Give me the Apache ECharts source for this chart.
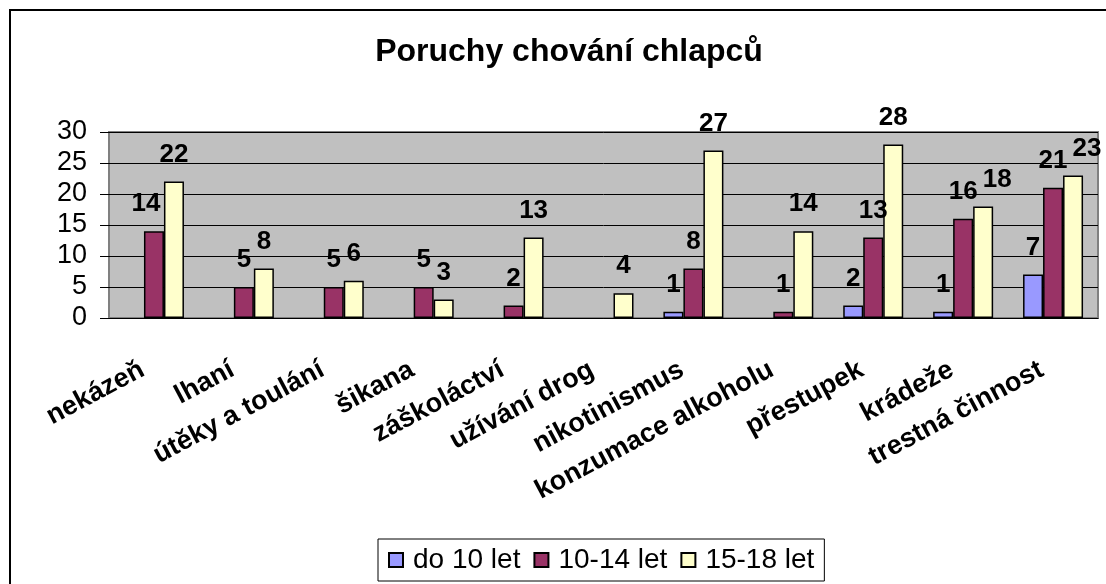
<!DOCTYPE html>
<html>
<head>
<meta charset="UTF-8">
<title>Poruchy chování chlapců</title>
<script type="text/javascript" src="https://cdn.jsdelivr.net/npm/echarts@6/dist/echarts.min.js"></script>
<style>
  html, body { margin: 0; padding: 0; background: #fff; }
</style>
</head>
<body>
<div id="main" style="width:1106px;height:584px;"></div>

<script type="text/javascript">
// kategorie
var categories = ['nekázeň', 'lhaní', 'útěky a toulání', 'šikana', 'záškoláctví',
  'užívání drog', 'nikotinismus', 'konzumace alkoholu', 'přestupek', 'krádeže', 'trestná činnost'];
// hodnoty podle věku
var do10 = [0, 0, 0, 0, 0, 0, 1, 0, 2, 1, 7];
var od10do14 = [14, 5, 5, 5, 2, 0, 8, 1, 13, 16, 21];
var od15do18 = [22, 8, 6, 3, 13, 4, 27, 14, 28, 18, 23];
var seriesNames = ['do 10 let', '10-14 let', '15-18 let'];

var font = '"Liberation Sans", Arial, sans-serif';

// posun popisků, které se v originále překrývaly
var labelShift = { '1-0': -8, '2-9': 14, '2-10': 14 };

function makeData(values, s) {
  return values.map(function (v, i) {
    var item = { value: v };
    var shift = labelShift[s + '-' + i];
    if (shift) {
      item.label = { offset: [shift, 0] };
    }
    // nulový sloupec nemá být vidět ani jako čára
    if (v === 0) {
      item.itemStyle = { borderWidth: 0, opacity: 0 };
    }
    return item;
  });
}

function makeSeries(name, values, color, s) {
  return {
    name: name,
    type: 'bar',
    data: makeData(values, s),
    barWidth: 20,
    barGap: '0%',
    itemStyle: { color: color, borderColor: '#000', borderWidth: 1.5 },
    label: {
      show: true,
      position: 'top',
      distance: 14,
      fontFamily: font,
      fontSize: 26,
      fontWeight: 'bold',
      color: '#000',
      formatter: function (p) { return p.value === 0 ? '' : p.value; }
    }
  };
}

var mychart = echarts.init(document.getElementById('main'));

var option = {
  animation: false,
  backgroundColor: '#fff',
  title: {
    text: 'Poruchy chování chlapců',
    left: 564,
    textAlign: 'center',
    top: 31,
    textStyle: { fontFamily: font, fontSize: 32, fontWeight: 'bold', color: '#000' }
  },
  legend: {
    data: seriesNames,
    left: 378,
    top: 539,
    padding: [6, 10, 6, 10],
    itemWidth: 14,
    itemHeight: 14,
    itemGap: 13,
    icon: 'rect',
    borderColor: '#000',
    borderWidth: 1,
    textStyle: { fontFamily: font, fontSize: 28, color: '#000', lineHeight: 30, padding: [0, 0, 0, 5] }
  },
  grid: {
    left: 109,
    right: 8,
    top: 132,
    bottom: 266,
    show: true,
    backgroundColor: '#C0C0C0',
    borderColor: '#808080',
    borderWidth: 2
  },
  xAxis: {
    type: 'category',
    data: categories,
    axisLine: { lineStyle: { color: '#000', width: 1 } },
    axisTick: { length: 9, lineStyle: { color: '#000' } },
    axisLabel: {
      interval: 0,
      rotate: 28,
      margin: 44,
      fontFamily: font,
      fontSize: 27,
      fontWeight: 'bold',
      color: '#000',
      padding: [0, 13, 0, 0]
    }
  },
  yAxis: {
    type: 'value',
    min: 0,
    max: 30,
    interval: 5,
    axisLine: { show: false },
    axisTick: { show: true, length: 9, lineStyle: { color: '#000' } },
    axisLabel: { margin: 22, fontFamily: font, fontSize: 27, color: '#000' },
    splitLine: { lineStyle: { color: '#000', width: 1 } }
  },
  graphic: [{
    type: 'rect',
    shape: { x: 10, y: 10, width: 1200, height: 700 },
    style: { fill: 'none', stroke: '#000', lineWidth: 2 },
    silent: true
  }],
  series: [
    makeSeries(seriesNames[0], do10, '#9999FF', 0),
    makeSeries(seriesNames[1], od10do14, '#993366', 1),
    makeSeries(seriesNames[2], od15do18, '#FFFFCC', 2)
  ]
};

mychart.setOption(option);
</script>
</body>
</html>
